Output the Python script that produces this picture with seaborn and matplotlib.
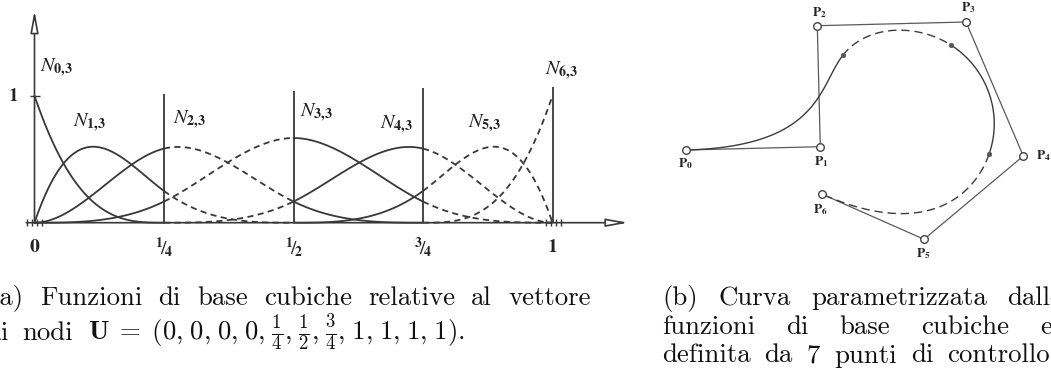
import numpy as np
import pandas as pd
import matplotlib
matplotlib.use("Agg")
import matplotlib.pyplot as plt
import seaborn as sns

# ---- data -------------------------------------------------------------
# clamped cubic knot vector U = (0,0,0,0,1/4,1/2,3/4,1,1,1,1)
knots = [0, 0, 0, 0, 0.25, 0.5, 0.75, 1, 1, 1, 1]
degree = 3
# line style of each interior knot span
span_kinds = ["solid", "dashed", "solid", "dashed"]

# knot ticks on the parameter axis
tick_values = [0, 0.25, 0.5, 0.75, 1]
tick_labels = [r"$\mathbf{0}$", r"${}^{\mathbf{1}}\!/\!{}_{\mathbf{4}}$",
               r"${}^{\mathbf{1}}\!/\!{}_{\mathbf{2}}$",
               r"${}^{\mathbf{3}}\!/\!{}_{\mathbf{4}}$", r"$\mathbf{1}$"]

# control points P0..P6 of the curve
ctrl_x = [0.000, 1.346, 1.316, 2.803, 3.376, 2.383, 1.360]
ctrl_y = [0.000, 0.033, 1.243, 1.280, -0.060, -0.893, -0.440]
ctrl_names = [r"$\mathbf{P}_{\mathbf{%d}}$" % i for i in range(7)]

# ---- B-spline basis (Cox-de Boor) -----------------------------------
def basis(i, p, u, t):
    if p == 0:
        if t[i] < t[i + 1] and t[i + 1] == t[-1]:
            return ((u >= t[i]) & (u <= t[i + 1])).astype(float)
        return ((u >= t[i]) & (u < t[i + 1])).astype(float)
    out = np.zeros_like(u)
    d1 = t[i + p] - t[i]
    if d1 > 0:
        out = out + (u - t[i]) / d1 * basis(i, p - 1, u, t)
    d2 = t[i + p + 1] - t[i + 1]
    if d2 > 0:
        out = out + (t[i + p + 1] - u) / d2 * basis(i + 1, p - 1, u, t)
    return out


n_funcs = len(knots) - degree - 1
spans = [(knots[k], knots[k + 1]) for k in range(len(knots) - 1)
         if knots[k] < knots[k + 1]]

rows, crow = [], []
for s, (a, b) in enumerate(spans):
    u = np.linspace(a, b, 120)
    vals = [basis(i, degree, u, knots) for i in range(n_funcs)]
    for i in range(n_funcs):
        if knots[i] <= a and b <= knots[i + degree + 1]:
            for uu, vv in zip(u, vals[i]):
                rows.append(dict(u=uu, N=vv, seg=f"{i}-{s}", kind=span_kinds[s]))
    cx = sum(v * px for v, px in zip(vals, ctrl_x))
    cy = sum(v * py for v, py in zip(vals, ctrl_y))
    for xx, yy in zip(cx, cy):
        crow.append(dict(x=xx, y=yy, seg=s, kind=span_kinds[s]))
basis_df = pd.DataFrame(rows)
curve_df = pd.DataFrame(crow)

# points of the curve at the interior knots
inner = np.array([0.25, 0.5, 0.75])
ivals = [basis(i, degree, inner, knots) for i in range(n_funcs)]
knot_px = sum(v * px for v, px in zip(ivals, ctrl_x))
knot_py = sum(v * py for v, py in zip(ivals, ctrl_y))

# ---- figure -----------------------------------------------------------
sns.set_theme(style="white")
plt.rcParams["font.family"] = ["DejaVu Serif"]
W, H = 1051, 387
fig = plt.figure(figsize=(W / 100, H / 100), dpi=100)
fig.patch.set_facecolor("white")


def px_axes(left, top, right, bottom):
    ax = fig.add_axes([left / W, 1 - bottom / H, (right - left) / W,
                       (bottom - top) / H])
    ax.set_facecolor("none")
    ax.set_axis_off()
    return ax


ink = "#383838"

# (a) basis functions
axa = px_axes(8.6, 0.45, 656.1, 267.15)
axa.set_xlim(-0.05, 1.2)
axa.set_ylim(-0.35, 1.75)
sns.lineplot(data=basis_df, x="u", y="N", units="seg", estimator=None,
             style="kind", dashes={"solid": "", "dashed": (3.4, 2.4)},
             color=ink, linewidth=1.3, legend=False, sort=False, ax=axa)
axa.set_axis_off()

# axes with hollow arrow heads
arrow = dict(arrowstyle="-|>,head_length=1.1,head_width=0.2", fc="white",
             ec=ink, lw=1.2, shrinkA=0, shrinkB=0)
axa.annotate("", xy=(0, 1.67), xytext=(0, 0), arrowprops=arrow)
axa.annotate("", xy=(1.146, 0), xytext=(-0.016, 0), arrowprops=arrow)

# knot lines
axa.vlines(tick_values[1:], 0, [1.01, 1.04, 1.06, 1.07], color=ink, lw=1.3)
# multiplicity marks of the end knots
for k in (0, 1):
    offs = np.array([-1.5, -0.5, 0.5, 1.5]) * 0.0095 + k * 0.002
    axa.vlines(k + offs, -0.028, 0.028, color=ink, lw=1.0)
axa.hlines(1, -0.009, 0.01, color=ink, lw=1.0)
axa.text(-0.0415, 1.0, r"$\mathbf{1}$", ha="center", va="center",
         fontsize=13.5, math_fontfamily="stix", color="#222")

for v, lab in zip(tick_values, tick_labels):
    axa.text(v, -0.195, lab, ha="center", va="center", fontsize=14,
             math_fontfamily="stix", color="#222")

n_labels = [(0.0106, 1.187), (0.075, 0.756), (0.268, 0.783), (0.5125, 0.835),
            (0.667, 0.743), (0.837, 0.746), (0.9855, 1.163)]
for i, (lx, ly) in enumerate(n_labels):
    axa.text(lx, ly, r"$N_{\mathbf{%d{,}3}}$" % i, ha="left", va="baseline",
             fontsize=14.5, math_fontfamily="stix", color="#222")

# (b) curve and control polygon
axb = px_axes(625.7, 0, 1050.7, 270)
axb.set_xlim(-0.6, 3.65)
axb.set_ylim(-1.2, 1.5)
sns.lineplot(x=ctrl_x, y=ctrl_y, sort=False, color="#5a5a5a", linewidth=0.9,
             ax=axb)
sns.lineplot(data=curve_df, x="x", y="y", units="seg", estimator=None,
             style="kind", dashes={"solid": "", "dashed": (6, 3.5)},
             color="#3c3c3c", linewidth=1.0, legend=False, sort=False, ax=axb)
sns.scatterplot(x=ctrl_x, y=ctrl_y, s=30, facecolor="white",
                edgecolor="#444", linewidth=1.0, zorder=5, ax=axb)
sns.scatterplot(x=knot_px, y=knot_py, s=12, color="#555", edgecolor="#555",
                zorder=5, ax=axb)
axb.set_axis_off()

p_labels = [(0.0, -0.14), (1.358, -0.12), (1.338, 1.37), (2.828, 1.425),
            (3.578, -0.06), (2.373, -1.04), (1.348, -0.60)]
for name, (lx, ly) in zip(ctrl_names, p_labels):
    axb.text(lx, ly, name, ha="center", va="center", fontsize=9.5,
             math_fontfamily="stix", color="#222")

# ---- captions (justified lines) ---------------------------------------
fs = 19.3
cap = dict(family="cmr10", fontsize=fs, va="baseline", color="#111")
renderer = fig.canvas.get_renderer()


def justified(line, x_first, x_last, base):
    """Place the words so the first starts at x_first, the last at x_last
    and every inter-word gap is equal (pixel units)."""
    texts = [fig.text(0, 1 - base / H, w, **cap) for w in line]
    widths = [t.get_window_extent(renderer).width for t in texts]
    gap = (x_last - x_first - sum(widths[:-1])) / (len(line) - 1)
    x = x_first
    for t, w in zip(texts, widths):
        t.set_x(x / W)
        x += w + gap


justified(["(a)", "Funzioni", "di", "base", "cubiche", "relative", "al",
           "vettore"], -10.5, 508, 305)
fig.text(-13.5 / W, 1 - 340 / H, "di", **cap)
fig.text(22 / W, 1 - 340 / H, "nodi", **cap)
fig.text(88 / W, 1 - 340 / H,
         r"$\mathbf{U}\; = \;(0{,}\;0{,}\;0{,}\;0{,}\;\frac{1}{4}{,}\;"
         r"\frac{1}{2}{,}\;\frac{3}{4}{,}\;1{,}\;1{,}\;1{,}\;1).$",
         math_fontfamily="cm", fontsize=fs, va="baseline", color="#111")

justified(["(b)", "Curva", "parametrizzata", "dalle"], 662, 1007, 305)
justified(["funzioni", "di", "base", "cubiche", "e"], 662, 1040, 333.5)
justified(["definita", "da", "7", "punti", "di", "controllo."], 662, 947, 362.5)

fig.savefig("out.png", dpi=100, facecolor="white")
